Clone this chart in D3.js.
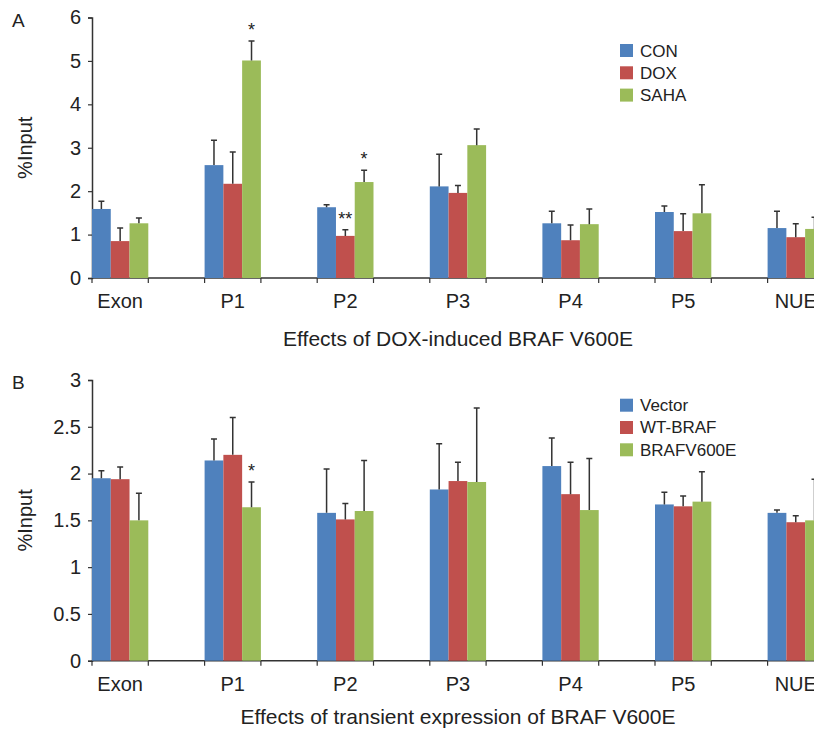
<!DOCTYPE html>
<html>
<head>
<meta charset="utf-8">
<script src="https://cdn.jsdelivr.net/npm/d3@7"></script>
<style>
  body { margin: 0; background: #fff; }
  svg { display: block; }
  text { font-family: "Liberation Sans", Arial, Helvetica, sans-serif; fill: #222; }
</style>
</head>
<body>
<div id="chart"></div>
<script>
// Categories shared by both panels
var categories = ["Exon", "P1", "P2", "P3", "P4", "P5", "NUE"];

// Panel A: DOX-induced BRAF V600E
var seriesA = ["CON", "DOX", "SAHA"];
var valuesA = [
    [1.59, 2.60, 1.63, 2.11, 1.26, 1.52, 1.15], // CON
    [0.85, 2.17, 0.97, 1.96, 0.87, 1.08, 0.94], // DOX
    [1.26, 5.01, 2.21, 3.06, 1.24, 1.49, 1.13]  // SAHA
];
var errorsA = [
    [0.18, 0.57, 0.06, 0.74, 0.28, 0.14, 0.39],
    [0.30, 0.73, 0.14, 0.17, 0.35, 0.40, 0.31],
    [0.12, 0.45, 0.27, 0.37, 0.35, 0.66, 0.27]
];
var starsA = [
    {cat: "P1", s: 2, label: "*"},
    {cat: "P2", s: 1, label: "**"},
    {cat: "P2", s: 2, label: "*"}
];
var ticksA = [0, 1, 2, 3, 4, 5, 6];

// Panel B: transient expression of BRAF V600E
var seriesB = ["Vector", "WT-BRAF", "BRAFV600E"];
var valuesB = [
    [1.95, 2.14, 1.58, 1.83, 2.08, 1.67, 1.58], // Vector
    [1.94, 2.20, 1.51, 1.92, 1.78, 1.65, 1.48], // WT-BRAF
    [1.50, 1.64, 1.60, 1.91, 1.61, 1.70, 1.50]  // BRAFV600E
];
var errorsB = [
    [0.08, 0.23, 0.47, 0.49, 0.30, 0.13, 0.03],
    [0.13, 0.40, 0.17, 0.20, 0.34, 0.11, 0.07],
    [0.29, 0.27, 0.54, 0.79, 0.55, 0.32, 0.44]
];
var starsB = [
    {cat: "P1", s: 2, label: "*"}
];
var ticksB = [0, 0.5, 1, 1.5, 2, 2.5, 3];

var colors = ["#4F81BD", "#C0504D", "#9BBB59"];

var width = 814, height = 730;

var svg = d3.select("#chart").append("svg")
    .attr("width", width)
    .attr("height", height);

function drawPanel(opt) {
    var g = svg.append("g");
    var x0 = 92, step = 112.6;

    // each category takes one step, bars fill its first half
    var x = d3.scaleBand()
        .domain(categories)
        .range([x0, x0 + step * categories.length])
        .paddingInner(0).paddingOuter(0);

    var xs = d3.scaleBand()
        .domain(d3.range(opt.series.length))
        .range([0, x.bandwidth() / 2]);

    var y = d3.scaleLinear()
        .domain([0, d3.max(opt.ticks)])
        .range([opt.bottom, opt.top]);

    // y axis
    var yAxis = g.append("g")
        .attr("transform", "translate(" + x0 + ",0)")
        .call(d3.axisLeft(y).tickValues(opt.ticks).tickSize(4).tickPadding(7)
            .tickFormat(d3.format("")));
    yAxis.selectAll("text").style("font-size", "20px");

    // x axis: ticks every half category
    var halfTicks = d3.range(categories.length * 2 + 1).map(function(i) { return x0 + i * step / 2; });
    g.append("line")
        .attr("x1", x0).attr("x2", x0 + step * categories.length)
        .attr("y1", opt.bottom).attr("y2", opt.bottom)
        .attr("stroke", "#333").attr("stroke-width", 1.5);
    g.selectAll(".xt").data(halfTicks).enter().append("line")
        .attr("x1", function(d) { return d; }).attr("x2", function(d) { return d; })
        .attr("y1", opt.bottom).attr("y2", opt.bottom + 5)
        .attr("stroke", "#333").attr("stroke-width", 1.2);
    g.selectAll(".xl").data(categories).enter().append("text")
        .attr("x", function(d) { return x(d) + x.bandwidth() / 4; })
        .attr("y", opt.bottom + 30)
        .attr("text-anchor", "middle")
        .style("font-size", "20px")
        .text(function(d) { return d; });

    yAxis.select(".domain").attr("stroke", "#333").attr("stroke-width", 1.5);
    yAxis.selectAll(".tick line").attr("stroke", "#333").attr("stroke-width", 1.2);

    // bars
    opt.series.forEach(function(name, s) {
        var data = categories.map(function(c, i) {
            return {cat: c, v: opt.values[s][i], e: opt.errors[s][i]};
        });
        var grp = g.append("g");
        grp.selectAll("rect").data(data).enter().append("rect")
            .attr("x", function(d) { return x(d.cat) + xs(s); })
            .attr("width", xs.bandwidth())
            .attr("y", function(d) { return y(d.v); })
            .attr("height", function(d) { return y(0) - y(d.v); })
            .attr("fill", colors[s]);
        // error bars
        grp.selectAll(".err").data(data).enter().append("path")
            .attr("d", function(d) {
                var cx = x(d.cat) + xs(s) + xs.bandwidth() / 2;
                var y1 = y(d.v), y2 = y(d.v + d.e);
                return "M" + cx + "," + y1 + "V" + y2 + "M" + (cx - 3) + "," + y2 + "H" + (cx + 3);
            })
            .attr("fill", "none")
            .attr("stroke", "#333")
            .attr("stroke-width", 1.5);
    });

    // significance stars
    g.selectAll(".star").data(opt.stars).enter().append("text")
        .attr("x", function(d) { return x(d.cat) + xs(d.s) + xs.bandwidth() / 2; })
        .attr("y", function(d) {
            var i = categories.indexOf(d.cat);
            return y(opt.values[d.s][i] + opt.errors[d.s][i]) - 5;
        })
        .attr("text-anchor", "middle")
        .style("font-size", "18px")
        .text(function(d) { return d.label; });

    // legend
    var lg = g.append("g").attr("transform", "translate(620," + opt.legendTop + ")");
    opt.series.forEach(function(name, s) {
        lg.append("rect")
            .attr("x", 0).attr("y", s * 22.3)
            .attr("width", 13).attr("height", 13)
            .attr("fill", colors[s]);
        lg.append("text")
            .attr("x", 20).attr("y", s * 22.3 + 12.5)
            .style("font-size", "17px")
            .text(name);
    });

    // y title
    g.append("text")
        .attr("transform", "translate(32," + ((opt.top + opt.bottom) / 2) + ") rotate(-90)")
        .attr("text-anchor", "middle")
        .style("font-size", "20px")
        .text("%Input");

    // panel letter
    g.append("text")
        .attr("x", 12).attr("y", opt.top + 9)
        .style("font-size", "19px")
        .text(opt.letter);

    // x title
    g.append("text")
        .attr("x", 458).attr("y", opt.bottom + opt.titleOffset)
        .attr("text-anchor", "middle")
        .style("font-size", "21px")
        .text(opt.title);
}

drawPanel({
    letter: "A", series: seriesA, values: valuesA, errors: errorsA, stars: starsA,
    ticks: ticksA, top: 17.5, bottom: 278, legendTop: 44, titleOffset: 68,
    title: "Effects of DOX-induced BRAF V600E"
});

drawPanel({
    letter: "B", series: seriesB, values: valuesB, errors: errorsB, stars: starsB,
    ticks: ticksB, top: 380, bottom: 660.7, legendTop: 398.7, titleOffset: 63,
    title: "Effects of transient expression of BRAF V600E"
});
</script>
</body>
</html>
